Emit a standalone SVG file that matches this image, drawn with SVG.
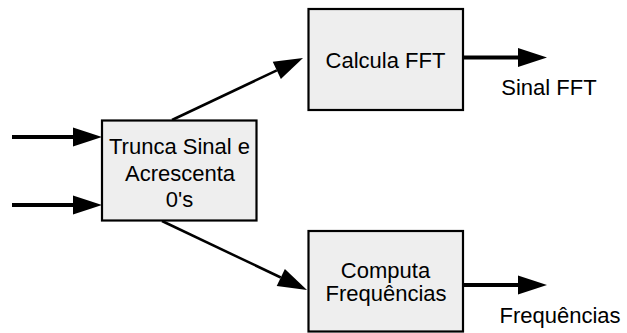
<svg xmlns="http://www.w3.org/2000/svg" width="627" height="333" viewBox="0 0 627 333">
  <style>
    .box { fill: #eeeeee; stroke: #000000; stroke-width: 2.2; }
    .label { font-family: "Liberation Sans", Arial, sans-serif; font-size: 22px; fill: #000000; text-anchor: middle; }
    .wire { fill: none; stroke: #000000; marker-end: url(#head); }
    .thick { stroke-width: 4; }
    .thin { stroke-width: 2.5; }
  </style>
  <defs>
    <!-- arrowhead: the line ends at the base, the tip reaches 29px further -->
    <marker id="head" markerUnits="userSpaceOnUse" markerWidth="30" markerHeight="20"
            refX="0" refY="9.5" orient="auto" overflow="visible">
      <path d="M0,0 L29,9.5 L0,19 Z" fill="#000000"/>
    </marker>
  </defs>

  <g id="connectors">
    <line class="wire thick" x1="12" y1="137" x2="73" y2="137"/>
    <line class="wire thick" x1="12" y1="205" x2="73" y2="205"/>
    <line class="wire thin" x1="172" y1="120" x2="276.8" y2="70.4"/>
    <line class="wire thin" x1="162" y1="221" x2="280.8" y2="277.5"/>
    <line class="wire thick" x1="463" y1="57.5" x2="518" y2="57.5"/>
    <line class="wire thick" x1="463" y1="285" x2="518" y2="285"/>
  </g>

  <g id="trunca">
    <rect class="box" x="102" y="120.5" width="154.5" height="100"/>
    <text class="label" x="179.5" y="154">Trunca Sinal e</text>
    <text class="label" x="180" y="180.7">Acrescenta</text>
    <text class="label" x="179.5" y="207.3">0's</text>
  </g>

  <g id="calcula-fft">
    <rect class="box" x="308.5" y="9" width="154.5" height="101"/>
    <text class="label" x="385.5" y="68">Calcula FFT</text>
  </g>

  <g id="computa-frequencias">
    <rect class="box" x="308.5" y="231" width="154.5" height="100.5"/>
    <text class="label" x="385.5" y="277.7">Computa</text>
    <text class="label" x="386" y="301">Frequências</text>
  </g>

  <g id="outputs">
    <text class="label" x="549" y="95">Sinal FFT</text>
    <text class="label" x="560" y="323.3">Frequências</text>
  </g>
</svg>
